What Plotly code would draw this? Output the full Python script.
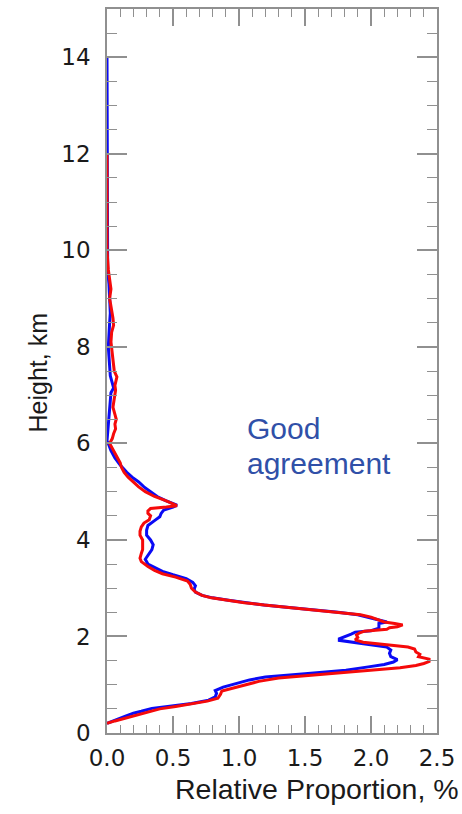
import plotly.graph_objects as go

# Vertical profiles: relative proportion (%) versus height (km)
height_blue = [14.0, 12.0, 10.0, 9.6, 9.3, 9.0, 8.7, 8.5, 8.2, 8.0, 7.8, 7.6, 7.4, 7.3, 7.15,
               7.05, 6.9, 6.75, 6.6, 6.4, 6.2, 6.05, 6.0, 5.85, 5.7, 5.55, 5.4, 5.3, 5.2, 5.1,
               5.0, 4.9, 4.82, 4.75, 4.72, 4.68, 4.62, 4.55, 4.48, 4.4, 4.3, 4.2, 4.1, 4.0,
               3.9, 3.8, 3.72, 3.6, 3.5, 3.43, 3.35, 3.28, 3.2, 3.12, 3.05, 2.98, 2.92, 2.85,
               2.8, 2.75, 2.7, 2.65, 2.6, 2.55, 2.5, 2.45, 2.4, 2.35, 2.32, 2.3, 2.27, 2.22,
               2.17, 2.12, 2.09, 2.05, 2.0, 1.95, 1.92, 1.88, 1.82, 1.78, 1.72, 1.65, 1.58,
               1.52, 1.47, 1.42, 1.37, 1.3, 1.23, 1.16, 1.1, 1.05, 0.95, 0.88, 0.82, 0.75,
               0.68, 0.61, 0.55, 0.51, 0.45, 0.41, 0.35, 0.3, 0.25, 0.2]
prop_blue = [0.0, 0.0, 0.0, 0.005, 0.015, 0.02, 0.025, 0.02, 0.015, 0.01, 0.015, 0.02, 0.025,
             0.035, 0.05, 0.03, 0.025, 0.02, 0.015, 0.01, 0.005, 0.0, 0.01, 0.03, 0.06, 0.10,
             0.15, 0.19, 0.24, 0.28, 0.33, 0.38, 0.44, 0.50, 0.53, 0.50, 0.43, 0.41, 0.40,
             0.36, 0.31, 0.30, 0.30, 0.33, 0.35, 0.34, 0.32, 0.29, 0.31, 0.36, 0.42, 0.50,
             0.60, 0.65, 0.67, 0.66, 0.67, 0.72, 0.80, 0.92, 1.06, 1.19, 1.38, 1.58, 1.75,
             1.90, 1.98, 2.06, 2.10, 2.12, 2.06, 2.06, 2.06, 2.00, 1.88, 1.85, 1.80, 1.76,
             1.76, 1.86, 2.00, 2.12, 2.15, 2.14, 2.15, 2.20, 2.17, 2.10, 1.98, 1.81, 1.50,
             1.20, 1.08, 1.01, 0.88, 0.82, 0.83, 0.82, 0.77, 0.64, 0.48, 0.34, 0.26, 0.20,
             0.14, 0.09, 0.04, 0.0]

height_red = [12.0, 10.0, 9.6, 9.4, 9.2, 9.0, 8.8, 8.6, 8.45, 8.3, 8.1, 7.95, 7.8, 7.65, 7.5,
              7.38, 7.3, 7.2, 7.1, 7.0, 6.85, 6.75, 6.6, 6.5, 6.4, 6.3, 6.2, 6.1, 6.0, 5.9,
              5.8, 5.7, 5.6, 5.5, 5.4, 5.3, 5.2, 5.1, 5.0, 4.9, 4.82, 4.75, 4.71, 4.68, 4.65,
              4.6, 4.55, 4.5, 4.42, 4.35, 4.27, 4.18, 4.1, 4.0, 3.9, 3.8, 3.72, 3.62, 3.55,
              3.45, 3.37, 3.3, 3.23, 3.15, 3.08, 3.0, 2.92, 2.85, 2.8, 2.75, 2.7, 2.65, 2.6,
              2.55, 2.5, 2.45, 2.4, 2.35, 2.3, 2.27, 2.24, 2.2, 2.18, 2.15, 2.11, 2.07, 2.03,
              1.98, 1.93, 1.88, 1.83, 1.78, 1.74, 1.68, 1.63, 1.58, 1.53, 1.48, 1.44, 1.4,
              1.35, 1.3, 1.25, 1.2, 1.14, 1.07, 1.0, 0.93, 0.87, 0.8, 0.72, 0.66, 0.6, 0.55,
              0.5, 0.43, 0.36, 0.3, 0.25, 0.2]
prop_red = [0.0, 0.0, 0.01, 0.02, 0.03, 0.02, 0.035, 0.045, 0.05, 0.035, 0.03, 0.035, 0.04,
            0.05, 0.055, 0.075, 0.07, 0.06, 0.065, 0.06, 0.05, 0.045, 0.06, 0.07, 0.06, 0.065,
            0.05, 0.04, 0.02, 0.04, 0.06, 0.08, 0.10, 0.11, 0.13, 0.16, 0.20, 0.24, 0.29,
            0.36, 0.44, 0.50, 0.53, 0.45, 0.33, 0.31, 0.31, 0.33, 0.32, 0.28, 0.26, 0.25,
            0.25, 0.27, 0.27, 0.27, 0.26, 0.25, 0.26, 0.31, 0.36, 0.42, 0.52, 0.61, 0.63,
            0.64, 0.67, 0.72, 0.79, 0.90, 1.04, 1.19, 1.38, 1.58, 1.76, 1.92, 2.00, 2.05,
            2.10, 2.18, 2.24, 2.20, 2.14, 2.12, 1.95, 1.91, 1.89, 1.90, 1.88, 1.94, 2.10,
            2.28, 2.33, 2.34, 2.37, 2.36, 2.44, 2.44, 2.40, 2.34, 2.22, 2.00, 1.78, 1.52,
            1.30, 1.15, 1.05, 0.95, 0.87, 0.86, 0.84, 0.76, 0.64, 0.52, 0.40, 0.30, 0.20,
            0.12, 0.06, 0.0]

x_ticks = [0.0, 0.5, 1.0, 1.5, 2.0, 2.5]
y_ticks = [0, 2, 4, 6, 8, 10, 12, 14]

x_title = "Relative Proportion, %"
y_title = "Height, km"
note_lines = ["Good", "agreement"]

frame_grey = "#909090"
tick_font = dict(family="DejaVu Sans", size=23, color="#1a1a1a")
label_font = "Liberation Sans, Arial, sans-serif"

fig = go.Figure()
fig.add_trace(go.Scatter(x=prop_blue, y=height_blue, mode="lines",
                         line=dict(color="#0a0af5", width=3), showlegend=False))
fig.add_trace(go.Scatter(x=prop_red, y=height_red, mode="lines",
                         line=dict(color="#f50a0a", width=3), showlegend=False))

axis_common = dict(
    showgrid=False, zeroline=False, showline=True, linecolor=frame_grey, linewidth=1.5,
    mirror="ticks", ticks="inside", tickcolor=frame_grey, tickwidth=1.5,
    tickfont=tick_font,
)

fig.update_xaxes(range=[0, 2.5], tickvals=x_ticks, tickformat=".1f", ticklen=17,
                 ticklabelstandoff=4,
                 minor=dict(dtick=0.1, ticks="inside", ticklen=8, tickcolor=frame_grey,
                            tickwidth=1.2, showgrid=False),
                 **axis_common)
fig.update_yaxes(range=[0, 15], tickvals=y_ticks, ticklen=20, ticklabelstandoff=10,
                 minor=dict(dtick=0.5, ticks="inside", ticklen=10, tickcolor=frame_grey,
                            tickwidth=1.2, showgrid=False),
                 **axis_common)

annotations = [
    dict(text=y_title, xref="paper", yref="paper", x=-0.208, y=0.497, textangle=-90,
         showarrow=False, xanchor="center", yanchor="middle",
         font=dict(family=label_font, size=25, color="#1a1a1a")),
    dict(text=x_title, xref="paper", yref="paper", x=1.072, y=-0.078,
         showarrow=False, xanchor="right", yanchor="middle",
         font=dict(family=label_font, size=28.5, color="#1a1a1a")),
]
note_y = [(733 - 427.5) / 726, (733 - 462.5) / 726]
for txt, ny in zip(note_lines, note_y):
    annotations.append(dict(text=txt, xref="paper", yref="paper", x=0.4167, y=ny,
                            showarrow=False, xanchor="left", yanchor="middle",
                            font=dict(family=label_font, size=30, color="#3050a8")))

fig.update_layout(
    width=462, height=814,
    margin=dict(l=107, r=19, t=7, b=81),
    paper_bgcolor="white", plot_bgcolor="white",
    annotations=annotations,
)

fig.write_html("out.html")
